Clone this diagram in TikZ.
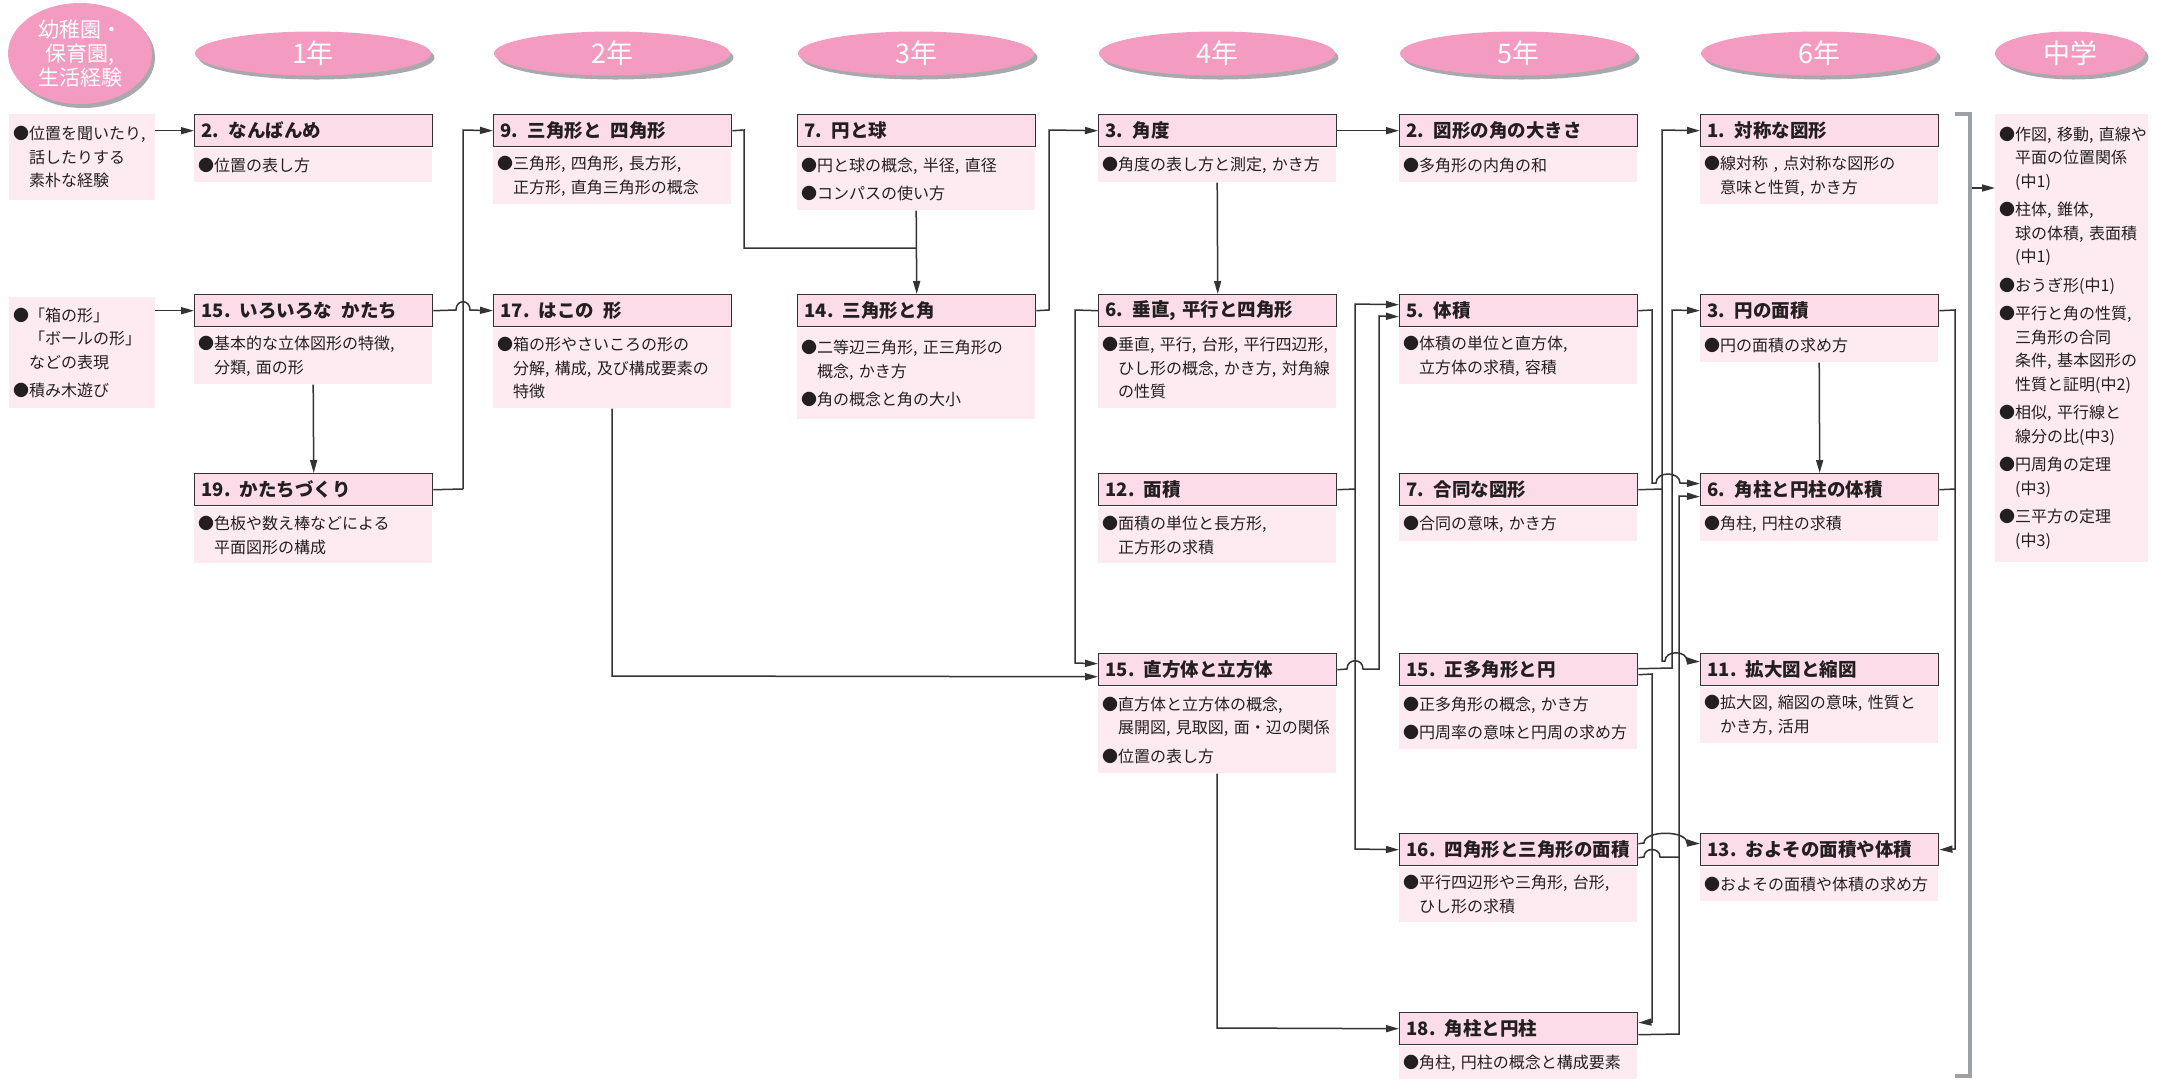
\documentclass[tikz,border=0pt]{standalone}
\usepackage{fontspec}
\setmainfont{Noto Sans CJK JP}
\usetikzlibrary{shapes.geometric,arrows.meta}
\definecolor{lc}{HTML}{333333}
\definecolor{tx}{HTML}{231F20}
\definecolor{ttlfill}{HTML}{FBDCE8}
\definecolor{bdyfill}{HTML}{FDEBF1}
\definecolor{pk}{HTML}{F39BC1}
\definecolor{shd}{HTML}{A8A9AD}
\definecolor{brk}{HTML}{9FA0A4}
\newcommand\tfont{\bfseries\fontsize{18.5}{22}\selectfont}
\newcommand\bodyfont{\fontsize{16}{23.5}\selectfont}
\newcommand\hfont{\fontsize{27}{30}\selectfont}
\newcommand\kfont{\fontsize{21}{24}\selectfont}
\newcommand\ind{\hspace*{1em}}
\tikzset{
  ttl/.style={draw=lc, line width=1.4pt, fill=ttlfill, anchor=north west, minimum height=32pt,
    text width=224pt, inner xsep=7pt, inner ysep=0pt, align=left, font=\tfont, text=tx},
  bdy/.style={fill=bdyfill, anchor=north west, text width=230pt, inner xsep=4pt, inner ysep=8pt,
    align=left, font=\bodyfont, text=tx},
  side/.style={bdy, text width=138pt},
  midbox/.style={bdy, text width=145pt},
  hdr/.style={ellipse, fill=pk, inner sep=0pt, minimum width=236pt, minimum height=44pt, font=\hfont, text=white},
  arr/.style={draw=lc, line width=1.5pt, -{Triangle[length=13pt,width=7pt]}},
  ln/.style={draw=lc, line width=1.5pt},
  brack/.style={draw=brk, line width=4.5pt},
}
\begin{document}
\begin{tikzpicture}[x=1pt,y=-1pt]
\useasboundingbox (0,0) rectangle (2157,1080);

% headers
\fill[shd] (83,57.5) ellipse[x radius=72pt, y radius=50.5pt];
\node[hdr, minimum width=144pt, minimum height=101pt, font=\kfont, align=center] (h0) at (80,53.5) {幼稚園・\\保育園,\\生活経験};
\foreach \cx/\lab/\nm in {313/1年/h1, 612/2年/h2, 916/3年/h3, 1217/4年/h4, 1518/5年/h5, 1819/6年/h6}{
  \fill[shd] (\cx+3.5,57.5) ellipse[x radius=118pt, y radius=22pt];
  \node[hdr] (\nm) at (\cx,53.5) {\lab};
}
\fill[shd] (2073.5,57.5) ellipse[x radius=75pt, y radius=22pt];
\node[hdr, minimum width=150pt] (hm) at (2070,53.5) {中学};

% left column
\node[side, minimum height=86pt] (l1) at (9,114) {●位置を聞いたり,\\\ind 話したりする\\\ind 素朴な経験};
\node[side, minimum height=111pt] (l2) at (9,297) {●「箱の形」\\\ind「ボールの形」\\\ind などの表現\\[5pt]●積み木遊び};

% col 1
\node[ttl] (t2) at (194,114) {2. なんばんめ};
\node[bdy, minimum height=34pt] (b2) at ([yshift=-0.7pt]t2.south west) {●位置の表し方};
\node[ttl] (t15a) at (194,294) {15.\enspace いろいろな\enspace かたち};
\node[bdy, minimum height=56pt] (b15a) at ([yshift=-0.7pt]t15a.south west) {●基本的な立体図形の特徴,\\\ind 分類,~面の形};
\node[ttl] (t19) at (194,473) {19. かたちづくり};
\node[bdy, minimum height=56pt] (b19) at ([yshift=-0.7pt]t19.south west) {●色板や数え棒などによる\\\ind 平面図形の構成};

% col 2
\node[ttl] (t9) at (493,114) {9. 三角形と\enspace 四角形};
\node[bdy, minimum height=56pt] (b9) at ([yshift=-0.7pt]t9.south west) {●三角形,~四角形,~長方形,\\\ind 正方形,~直角三角形の概念};
\node[ttl] (t17) at (493,294) {17. はこの\enspace 形};
\node[bdy, minimum height=80pt] (b17) at ([yshift=-0.7pt]t17.south west) {●箱の形やさいころの形の\\\ind 分解,~構成,~及び構成要素の\\\ind 特徴};

% col 3
\node[ttl] (t7) at (797,114) {7. 円と球};
\node[bdy, minimum height=62pt] (b7) at ([yshift=-0.7pt]t7.south west) {●円と球の概念,~半径,~直径\\[5pt]●コンパスの使い方};
\node[ttl] (t14) at (797,294) {14. 三角形と角};
\node[bdy, minimum height=91pt] (b14) at ([yshift=-0.7pt]t14.south west) {●二等辺三角形,~正三角形の\\\ind 概念,~かき方\\[5pt]●角の概念と角の大小};

% col 4
\node[ttl] (t3) at (1098,114) {3. 角度};
\node[bdy, minimum height=34pt] (b3) at ([yshift=-0.7pt]t3.south west) {●角度の表し方と測定,~かき方};
\node[ttl] (t6) at (1098,294) {6. 垂直,~平行と四角形};
\node[bdy, minimum height=80pt] (b6) at ([yshift=-0.7pt]t6.south west) {●垂直,~平行,~台形,~平行四辺形,\\\ind ひし形の概念,~かき方,~対角線\\\ind の性質};
\node[ttl] (t12) at (1098,473) {12. 面積};
\node[bdy, minimum height=56pt] (b12) at ([yshift=-0.7pt]t12.south west) {●面積の単位と長方形,\\\ind 正方形の求積};
\node[ttl] (t15c) at (1098,653) {15. 直方体と立方体};
\node[bdy, minimum height=86pt] (b15c) at ([yshift=-0.7pt]t15c.south west) {●直方体と立方体の概念,\\\ind 展開図,~見取図,~面・辺の関係\\[5pt]●位置の表し方};

% col 5
\node[ttl] (t2e) at (1399,114) {2. 図形の角の大きさ};
\node[bdy, minimum height=34pt] (b2e) at ([yshift=-0.7pt]t2e.south west) {●多角形の内角の和};
\node[ttl] (t5) at (1399,294) {5. 体積};
\node[bdy, minimum height=56pt] (b5) at ([yshift=-0.7pt]t5.south west) {●体積の単位と直方体,\\\ind 立方体の求積,~容積};
\node[ttl] (t7g) at (1399,473) {7. 合同な図形};
\node[bdy, minimum height=34pt] (b7g) at ([yshift=-0.7pt]t7g.south west) {●合同の意味,~かき方};
\node[ttl] (t15d) at (1399,653) {15. 正多角形と円};
\node[bdy, minimum height=62pt] (b15d) at ([yshift=-0.7pt]t15d.south west) {●正多角形の概念,~かき方\\[5pt]●円周率の意味と円周の求め方};
\node[ttl] (t16) at (1399,833) {16. 四角形と三角形の面積};
\node[bdy, minimum height=52pt] (b16) at ([yshift=-0.7pt]t16.south west) {●平行四辺形や三角形,~台形,\\\ind ひし形の求積};
\node[ttl] (t18) at (1399,1012) {18. 角柱と円柱};
\node[bdy, minimum height=33pt] (b18) at ([yshift=-0.7pt]t18.south west) {●角柱,~円柱の概念と構成要素};

% col 6
\node[ttl] (t1s) at (1700,114) {1. 対称な図形};
\node[bdy, minimum height=56pt] (b1s) at ([yshift=-0.7pt]t1s.south west) {●線対称~,~点対称な図形の\\\ind 意味と性質,~かき方};
\node[ttl] (t3c) at (1700,294) {3. 円の面積};
\node[bdy, minimum height=34pt] (b3c) at ([yshift=-0.7pt]t3c.south west) {●円の面積の求め方};
\node[ttl] (t6c) at (1700,473) {6. 角柱と円柱の体積};
\node[bdy, minimum height=34pt] (b6c) at ([yshift=-0.7pt]t6c.south west) {●角柱,~円柱の求積};
\node[ttl] (t11) at (1700,653) {11. 拡大図と縮図};
\node[bdy, minimum height=56pt] (b11) at ([yshift=-0.7pt]t11.south west) {●拡大図,~縮図の意味,~性質と\\\ind かき方,~活用};
\node[ttl] (t13) at (1700,833) {13.\enspace およその面積や体積};
\node[bdy, minimum height=34pt] (b13) at ([yshift=-0.7pt]t13.south west) {●およその面積や体積の求め方};

% middle school
\node[midbox, minimum height=448pt] (ms) at (1995,114) {●作図,~移動,~直線や\\\ind 平面の位置関係\\\ind (中1)\\[5pt]●柱体,~錐体,\\\ind 球の体積,~表面積\\\ind (中1)\\[5pt]●おうぎ形(中1)\\[5pt]●平行と角の性質,\\\ind 三角形の合同\\\ind 条件,~基本図形の\\\ind 性質と証明(中2)\\[5pt]●相似,~平行線と\\\ind 線分の比(中3)\\[5pt]●円周角の定理\\\ind (中3)\\[5pt]●三平方の定理\\\ind (中3)};

% connectors
\coordinate (j1) at (463,489);
\coordinate (j2) at (1355,489);
\coordinate (j3) at (1662,489);
\coordinate (j4) at (1955,489);
\draw[arr] (l1.east |- t2.west) -- (t2.west);
\draw[arr] (l2.east |- t15a.west) -- (t15a.west);
\draw[arr] (b15a.south) -- (t19.north);
\draw[ln] (t19.east) -- (j1);
\draw[arr] (j1) -- (463,130) -- (t9.west);
\draw[arr] (t15a.east) -- (456,310) .. controls (456,299) and (470,299) .. (470,310) -- (t17.west);
\draw[ln] (t9.east) -- (744,130) -- (744,248) -- (916,248);
\draw[arr] (b7.south) -- (t14.north);
\draw[arr] (t14.east) -- (1049,310) -- (1049,130) -- (t3.west);
\draw[arr] (t3.east) -- (t2e.west);
\draw[arr] (b3.south) -- (t6.north);
\draw[arr] (t6.west) -- (1075,310) -- (1075,663) -- ([yshift=6pt]t15c.west);
\draw[arr] (b17.south) -- (612,676) -- ([yshift=-7pt]t15c.west);
\draw[arr] (b15c.south) -- (1217,1028) -- (t18.west);
\draw[ln] (t12.east) -- (j2);
\draw[arr] (j2) -- (1355,304) -- ([yshift=6pt]t5.west);
\draw[arr] (j2) -- (1355,849) -- (t16.west);
\draw[arr] (t15c.east) -- (1347,669) .. controls (1347,658) and (1363,658) .. (1363,669) -- (1379,669) -- (1379,316) -- ([yshift=-6pt]t5.west);
\draw[arr] (t5.east) -- (1652,310) -- (1652,483) -- (1656,483) .. controls (1656,471) and (1680,471) .. (1680,483) -- ([yshift=6pt]t6c.west);
\draw[ln] (t7g.east) -- (j3);
\draw[arr] (j3) -- (1662,130) -- (t1s.west);
\draw[arr] (j3) -- (1662,661) -- (1665,661) .. controls (1665,650) and (1687,650) .. (1687,661) -- ([yshift=8pt]t11.west);
\draw[arr] ([yshift=1pt]t15d.east) -- (1672,668) -- (1672,310) -- (t3c.west);
\draw[arr] ([yshift=-5pt]t15d.east) -- (1652,674) -- (1652,1022) -- ([yshift=6pt]t18.east);
\draw[arr] ([yshift=6pt]t16.east) -- (1644,843) .. controls (1644,830) and (1687,830) .. (1687,843) -- ([yshift=6pt]t13.west);
\draw[ln] ([yshift=-8pt]t16.east) -- (1644,857) .. controls (1644,847) and (1660,847) .. (1660,857) -- (1679,857);
\draw[arr] ([yshift=-6pt]t18.east) -- (1679,1034) -- (1679,496) -- ([yshift=-7pt]t6c.west);
\draw[arr] (b3c.south) -- (t6c.north);
\draw[ln] (t6c.east) -- (j4);
\draw[arr] (t3c.east) -- (1955,310) -- (1955,849) -- (t13.east);
\draw[brack] (1955,114) -- (1970,114) -- (1970,1076) -- (1955,1076);
\draw[arr] (1972,188) -- (ms.west |- 0,188);
\end{tikzpicture}
\end{document}
